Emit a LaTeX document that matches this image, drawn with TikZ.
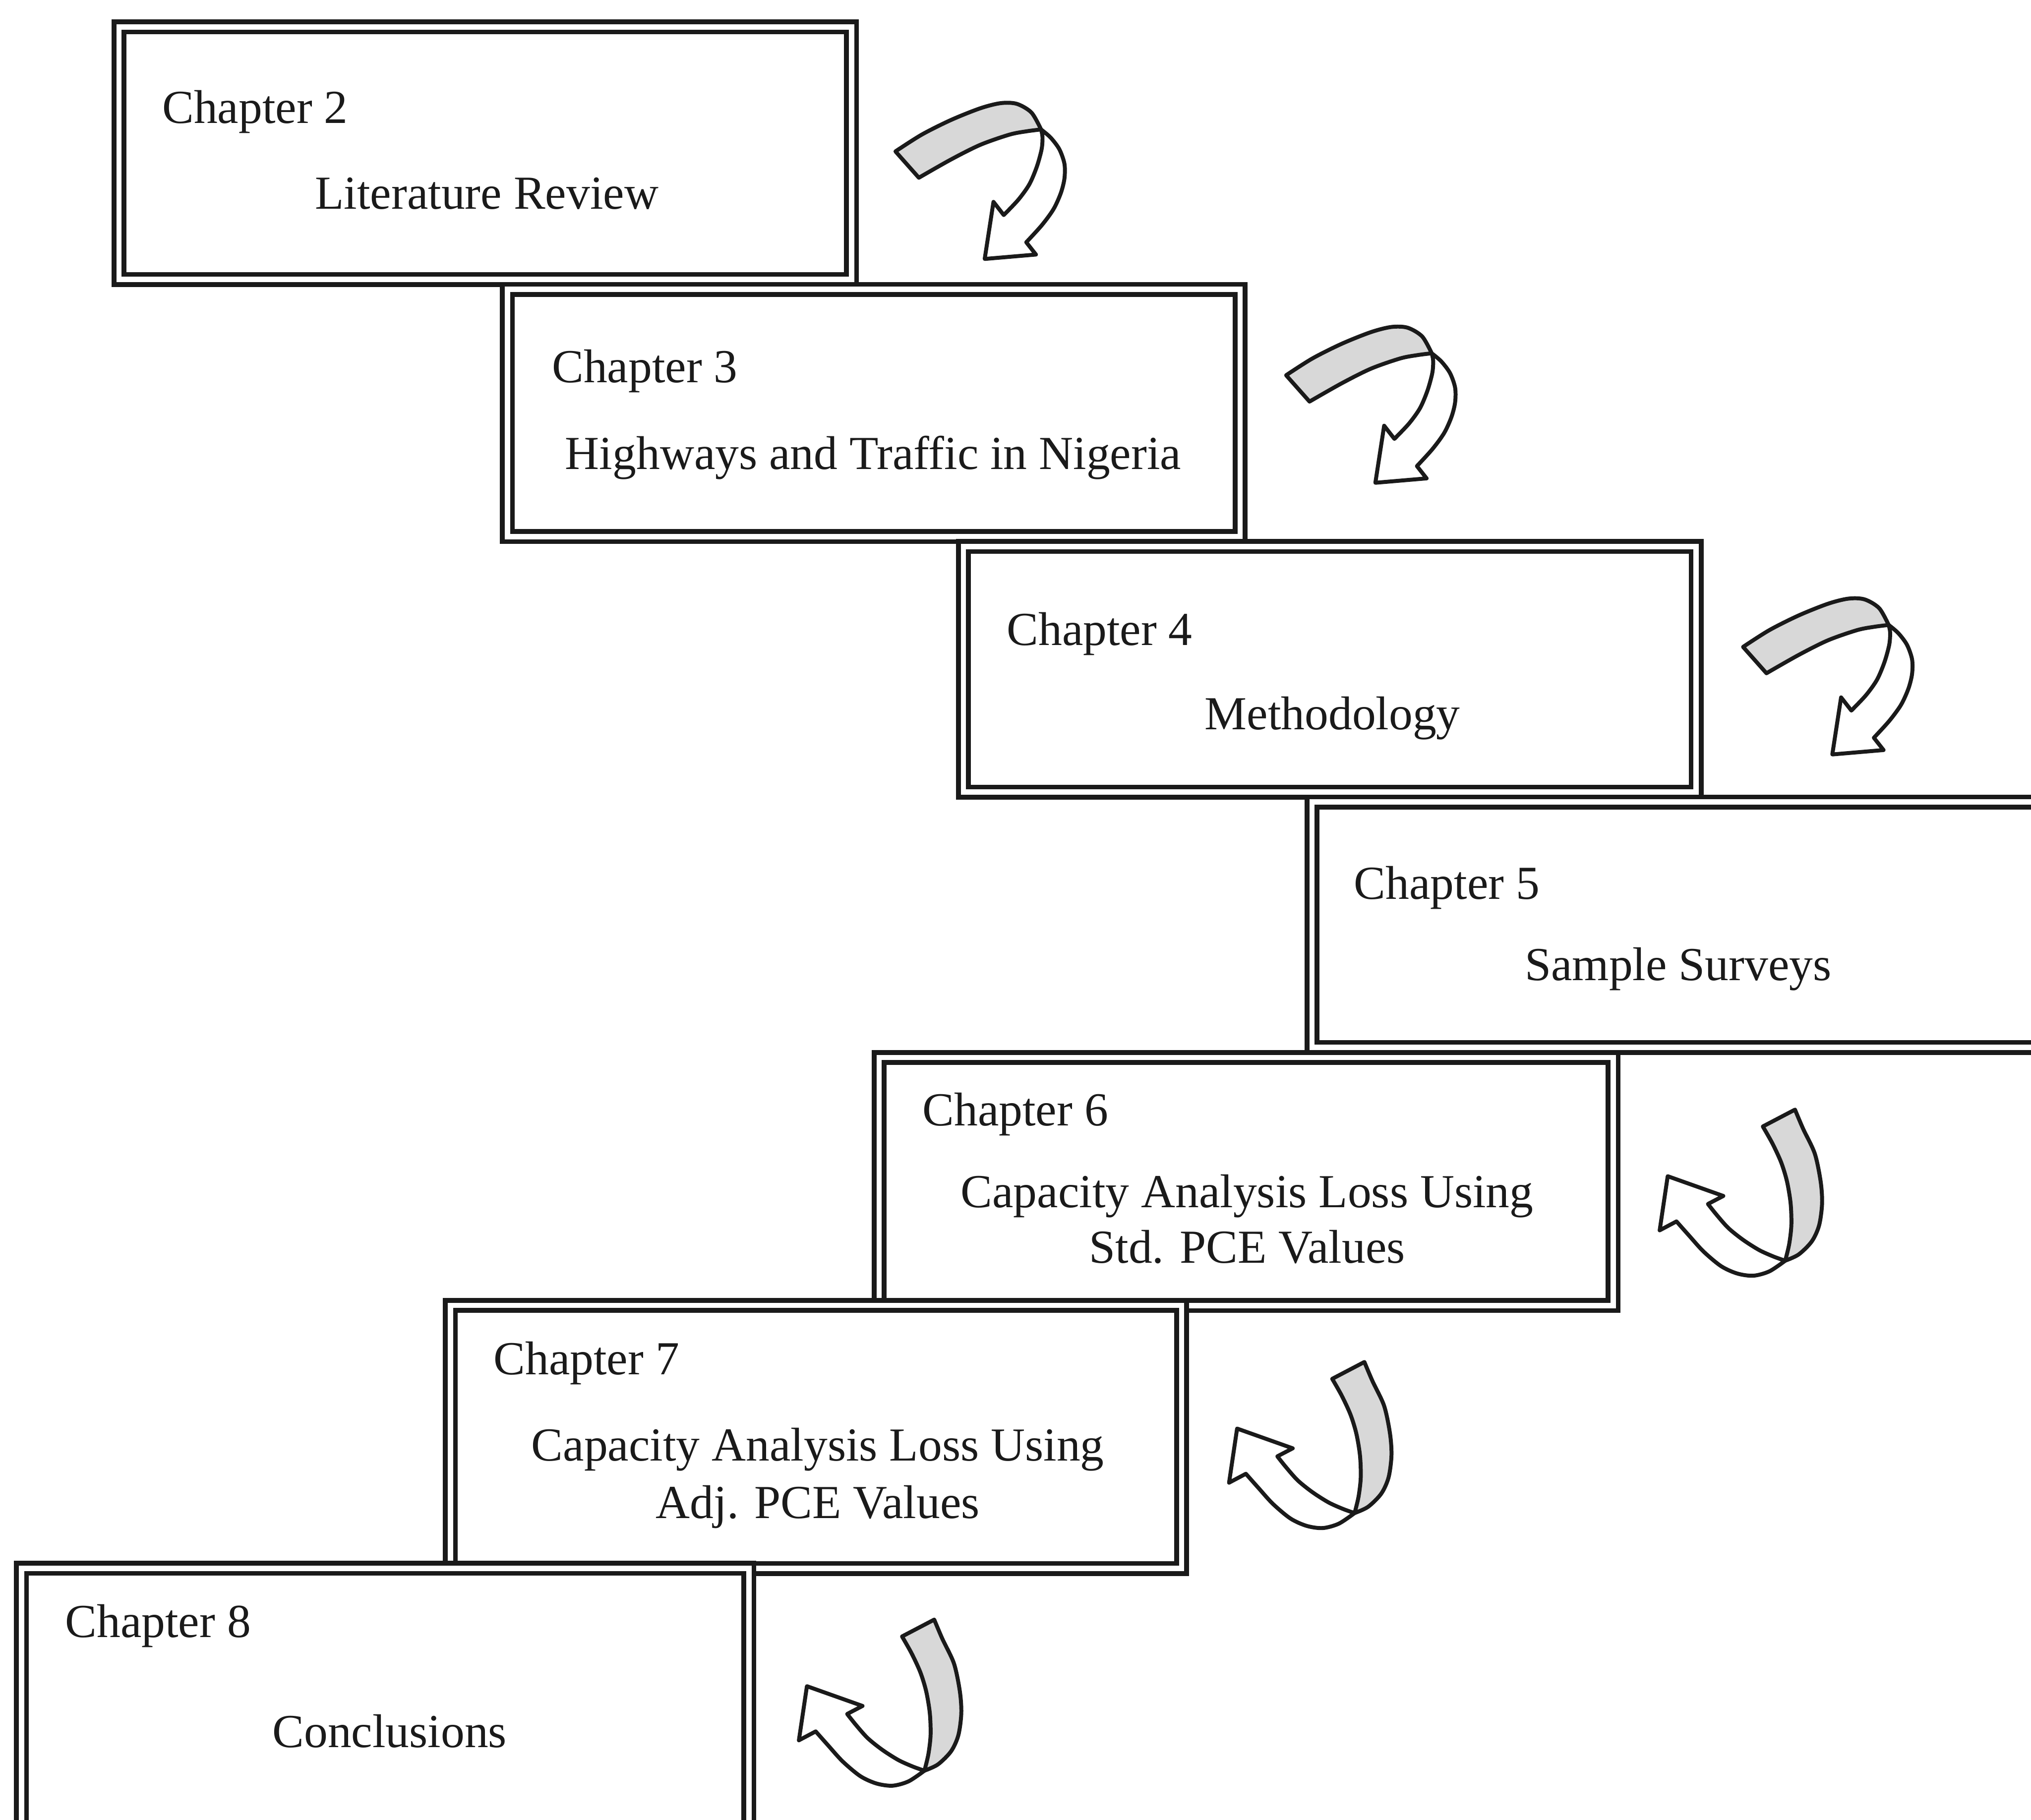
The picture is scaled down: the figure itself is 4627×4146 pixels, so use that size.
\documentclass[tikz,border=0pt]{standalone}
\usepackage{fontspec}
\setmainfont{Liberation Serif}
\definecolor{ink}{HTML}{1A1A1A}
\definecolor{shade}{HTML}{D8D8D8}
\tikzset{
  chbox/.style={rectangle, draw=ink, double=white, double distance=0.12cm, line width=0.11cm, fill=white, inner sep=0pt},
  lbl/.style={inner sep=0pt, font=\fontsize{30.7}{37}\selectfont, text=ink},
  band/.style={draw=ink, line width=0.09cm, fill=shade, line join=round},
  body/.style={draw=ink, line width=0.09cm, fill=white, line join=round},
  curvA/.pic={
    \path[band] plot[smooth] coordinates {(40,145) (100,106.7) (166.7,73.3) (233.3,46.7) (280,35) (316.7,36.7) (350,56.7) (371.7,95)}
      -- plot[smooth] coordinates {(371.7,95) (340,99) (300,106.7) (233.3,130) (166.7,163.3) (93.3,205)} -- cycle;
    \path[body] plot[smooth] coordinates {(371.7,95) (393.3,113.3) (413.3,140) (425,173.3) (425,206.7) (416.7,240) (400,276.7) (373.3,313.3) (338,352)}
      -- (360,380) -- (243.3,390) -- (263.3,260) -- (286.7,290)
      -- plot[smooth] coordinates {(286.7,290) (320,255) (345,220) (362,180) (373,140) (375,112) (371.7,95)} -- cycle;
  },
  curvB/.pic={
    \path[band] (285,91.7) -- (358.3,53.3)
      -- plot[smooth] coordinates {(358.3,53.3) (376.7,96.7) (403.3,153.3) (416.7,216.7) (420,266.7) (413.3,316.7) (396.7,353.3) (366.7,383.3) (336,397.5)}
      -- plot[smooth] coordinates {(336,397.5) (345,360) (350,316.7) (348.3,266.7) (340,216.7) (326.7,173.3) (306.7,130) (285,91.7)} -- cycle;
    \path[body] plot[smooth] coordinates {(336,397.5) (300,421.7) (263.3,431.7) (226.7,426.7) (190,410) (150,376.7) (116.7,340) (88.3,308)}
      -- (50,328.3) -- (68.3,205) -- (195,250) -- (160,268.3)
      -- plot[smooth] coordinates {(160,268.3) (180,293.3) (206.7,323.3) (240,350) (276.7,373.3) (310,388.3) (336,397.5)} -- cycle;
  }
}
\begin{document}
\begin{tikzpicture}[x=0.01cm,y=-0.01cm]
\useasboundingbox (0,0) rectangle (4627,4146);
\fill[white] (0,0) rectangle (4627,4146);
\clip (0,0) rectangle (4627,4146);

% boxes
\node[chbox, minimum width=16.68cm, minimum height=5.75cm] (b2) at (1105.5,349) {};
\node[chbox, minimum width=16.68cm, minimum height=5.63cm] (b3) at (1990.5,941) {};
\node[chbox, minimum width=16.68cm, minimum height=5.59cm] (b4) at (3029.5,1525) {};
\node[chbox, minimum width=17.19cm, minimum height=5.59cm] (b5) at (3849,2107) {};
\node[chbox, minimum width=16.71cm, minimum height=5.65cm] (b6) at (2839,2692) {};
\node[chbox, minimum width=16.65cm, minimum height=5.99cm] (b7) at (1859,3274) {};
\node[chbox, minimum width=16.56cm, minimum height=6.45cm] (b8) at (877.5,3896) {};

% texts
\node[lbl, anchor=base west] (c2) at (369,281) {Chapter 2};
\node[lbl, anchor=base west] (t2) at (717,476) {Literature Review};
\node[lbl, anchor=base west] (c3) at (1257,871) {Chapter 3};
\node[lbl, anchor=base west] (t3) at (1287,1069) {Highways and Traffic in Nigeria};
\node[lbl, anchor=base west] (c4) at (2293,1470) {Chapter 4};
\node[lbl, anchor=base west] (t4) at (2744,1662) {Methodology};
\node[lbl, anchor=base west] (c5) at (3084,2049) {Chapter 5};
\node[lbl, anchor=base west] (t5) at (3473,2234) {Sample Surveys};
\node[lbl, anchor=base west] (c6) at (2101,2565) {Chapter 6};
\node[lbl, anchor=base] (t6a) at (2841,2751) {Capacity Analysis Loss Using};
\node[lbl, anchor=base] (t6b) at (2841,2878) {Std. PCE Values};
\node[lbl, anchor=base west] (c7) at (1124,3132) {Chapter 7};
\node[lbl, anchor=base] (t7a) at (1863,3329) {Capacity Analysis Loss Using};
\node[lbl, anchor=base] (t7b) at (1863,3459) {Adj. PCE Values};
\node[lbl, anchor=base west] (c8) at (148,3731) {Chapter 8};
\node[lbl, anchor=base west] (t8) at (620,3981) {Conclusions};

% curved arrows
\pic at (2000,200) {curvA};
\pic at (2890,710) {curvA};
\pic at (3931,1329) {curvA};
\pic at (3731,2475) {curvB};
\pic at (2750,3050) {curvB};
\pic at (1770,3637) {curvB};
\end{tikzpicture}
\end{document}
